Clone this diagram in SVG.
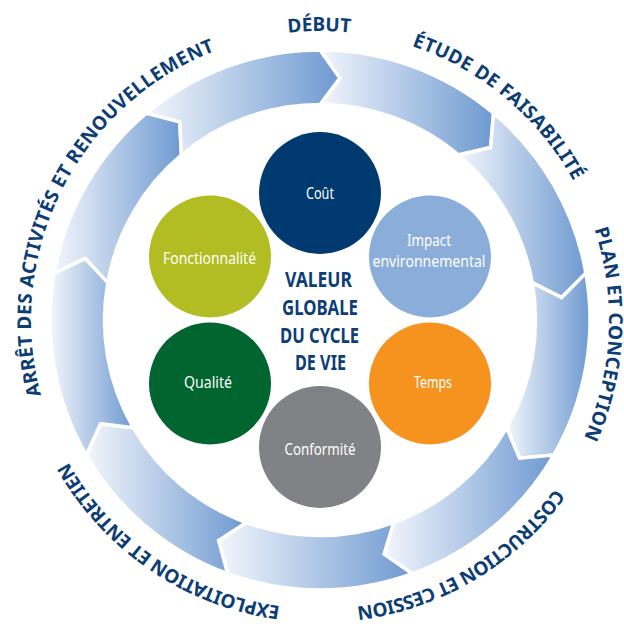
<svg xmlns="http://www.w3.org/2000/svg" width="624" height="628" viewBox="0 0 624 628">
<defs>
<linearGradient id="g" x1="0" y1="0" x2="1" y2="0">
<stop offset="0" stop-color="#f3f6fc"/>
<stop offset="1" stop-color="#6e9ad1"/>
</linearGradient>
<path id="ring" d="M 320,609 A 289 289 0 1 1 320,31 A 289 289 0 1 1 320,609" fill="none"/>
</defs>
<style>
.seg{fill:url(#g);stroke:#fff;stroke-width:3.5;stroke-linejoin:miter}
.lbl{font-family:"Noto Sans","DejaVu Sans",sans-serif;font-stretch:condensed;font-weight:bold;font-size:19px;fill:#0c3d75;letter-spacing:2.5px}
.ct{font-family:"Noto Sans","DejaVu Sans",sans-serif;font-stretch:condensed;font-size:17px;fill:#fff;text-anchor:middle}
.mid{font-family:"Noto Sans","DejaVu Sans",sans-serif;font-stretch:condensed;font-weight:bold;font-size:21px;fill:#0c3d75;text-anchor:middle}
</style>
<rect width="624" height="628" fill="#fff"/>
<g id="connectors">
<path class="seg" d="M 320,50 A 270 270 0 0 1 493.55,113.17 L 490.71,147.49 L 458.52,154.92 A 215.5 215.5 0 0 0 320,104.5 L 339.89,78.12 Z"/>
<path class="seg" d="M 493.55,113.17 A 270 270 0 0 1 585.90,273.12 L 561.66,297.58 L 532.23,282.58 A 215.5 215.5 0 0 0 458.52,154.92 L 490.71,147.49 Z"/>
<path class="seg" d="M 585.90,273.12 A 270 270 0 0 1 553.83,455 L 519.53,458.16 L 506.63,427.75 A 215.5 215.5 0 0 0 532.23,282.58 L 561.66,297.58 Z"/>
<path class="seg" d="M 553.83,455 A 270 270 0 0 1 412.35,573.72 L 384.04,554.10 L 393.71,522.50 A 215.5 215.5 0 0 0 506.63,427.75 L 519.53,458.16 Z"/>
<path class="seg" d="M 412.35,573.72 A 270 270 0 0 1 227.65,573.72 L 218.58,540.49 L 246.29,522.50 A 215.5 215.5 0 0 0 393.71,522.50 L 384.04,554.10 Z"/>
<path class="seg" d="M 227.65,573.72 A 270 270 0 0 1 86.17,455 L 100.58,423.72 L 133.37,427.75 A 215.5 215.5 0 0 0 246.29,522.50 L 218.58,540.49 Z"/>
<path class="seg" d="M 86.17,455 A 270 270 0 0 1 54.10,273.12 L 85.24,258.41 L 107.77,282.58 A 215.5 215.5 0 0 0 133.37,427.75 L 100.58,423.72 Z"/>
<path class="seg" d="M 54.10,273.12 A 270 270 0 0 1 146.45,113.17 L 179.75,121.92 L 181.48,154.92 A 215.5 215.5 0 0 0 107.77,282.58 L 85.24,258.41 Z"/>
<path class="seg" d="M 146.45,113.17 A 270 270 0 0 1 320,50 L 339.89,78.12 L 320,104.5 A 215.5 215.5 0 0 0 181.48,154.92 L 179.75,121.92 Z"/>
</g>
<g id="labels">
<text class="lbl" text-anchor="middle"><textPath href="#ring" startOffset="908" textLength="65" lengthAdjust="spacing">DÉBUT</textPath></text>
<text class="lbl" text-anchor="middle"><textPath href="#ring" startOffset="1110" textLength="218" lengthAdjust="spacing">ÉTUDE DE FAISABILITÉ</textPath></text>
<text class="lbl" text-anchor="middle"><textPath href="#ring" startOffset="1377" textLength="216" lengthAdjust="spacing">PLAN ET CONCEPTION</textPath></text>
<text class="lbl" text-anchor="middle"><textPath href="#ring" startOffset="1661" textLength="240" lengthAdjust="spacing">COSTRUCTION ET CESSION</textPath></text>
<text class="lbl" text-anchor="middle"><textPath href="#ring" startOffset="174" textLength="268" lengthAdjust="spacing">EXPLOITATION ET ENTRETIEN</textPath></text>
<text class="lbl" text-anchor="middle"><textPath href="#ring" startOffset="590" textLength="425" lengthAdjust="spacing">ARRÊT DES ACTIVITÉS ET RENOUVELLEMENT</textPath></text>
</g>
<g id="cout"><circle cx="320" cy="193" r="61" fill="#003a70"/><text class="ct" x="320" y="199" textLength="28" lengthAdjust="spacingAndGlyphs">Coût</text></g>
<g id="impact"><circle cx="430" cy="256.5" r="61" fill="#8badda"/><text class="ct" x="429" y="246" font-size="16.5" textLength="44" lengthAdjust="spacingAndGlyphs">Impact</text><text class="ct" x="429" y="267" font-size="16.5" textLength="113" lengthAdjust="spacingAndGlyphs">environnemental</text></g>
<g id="temps"><circle cx="430" cy="383.5" r="61" fill="#f6921e"/><text class="ct" x="433" y="388" textLength="38" lengthAdjust="spacingAndGlyphs">Temps</text></g>
<g id="conformite"><circle cx="320" cy="447" r="61" fill="#818285"/><text class="ct" x="320" y="455" textLength="71" lengthAdjust="spacingAndGlyphs">Conformité</text></g>
<g id="qualite"><circle cx="210" cy="383.5" r="61" fill="#00652e"/><text class="ct" x="208" y="388" textLength="48" lengthAdjust="spacingAndGlyphs">Qualité</text></g>
<g id="fonctionnalite"><circle cx="210" cy="256.5" r="61" fill="#b1bd23"/><text class="ct" x="209.5" y="264" textLength="93" lengthAdjust="spacingAndGlyphs">Fonctionnalité</text></g>
<g id="centre">
<text class="mid" x="318.5" y="287" textLength="67" lengthAdjust="spacingAndGlyphs">VALEUR</text>
<text class="mid" x="320" y="315" textLength="76" lengthAdjust="spacingAndGlyphs">GLOBALE</text>
<text class="mid" x="319.5" y="343" textLength="79" lengthAdjust="spacingAndGlyphs">DU CYCLE</text>
<text class="mid" x="320.5" y="370" textLength="51" lengthAdjust="spacingAndGlyphs">DE VIE</text>
</g>
</svg>
